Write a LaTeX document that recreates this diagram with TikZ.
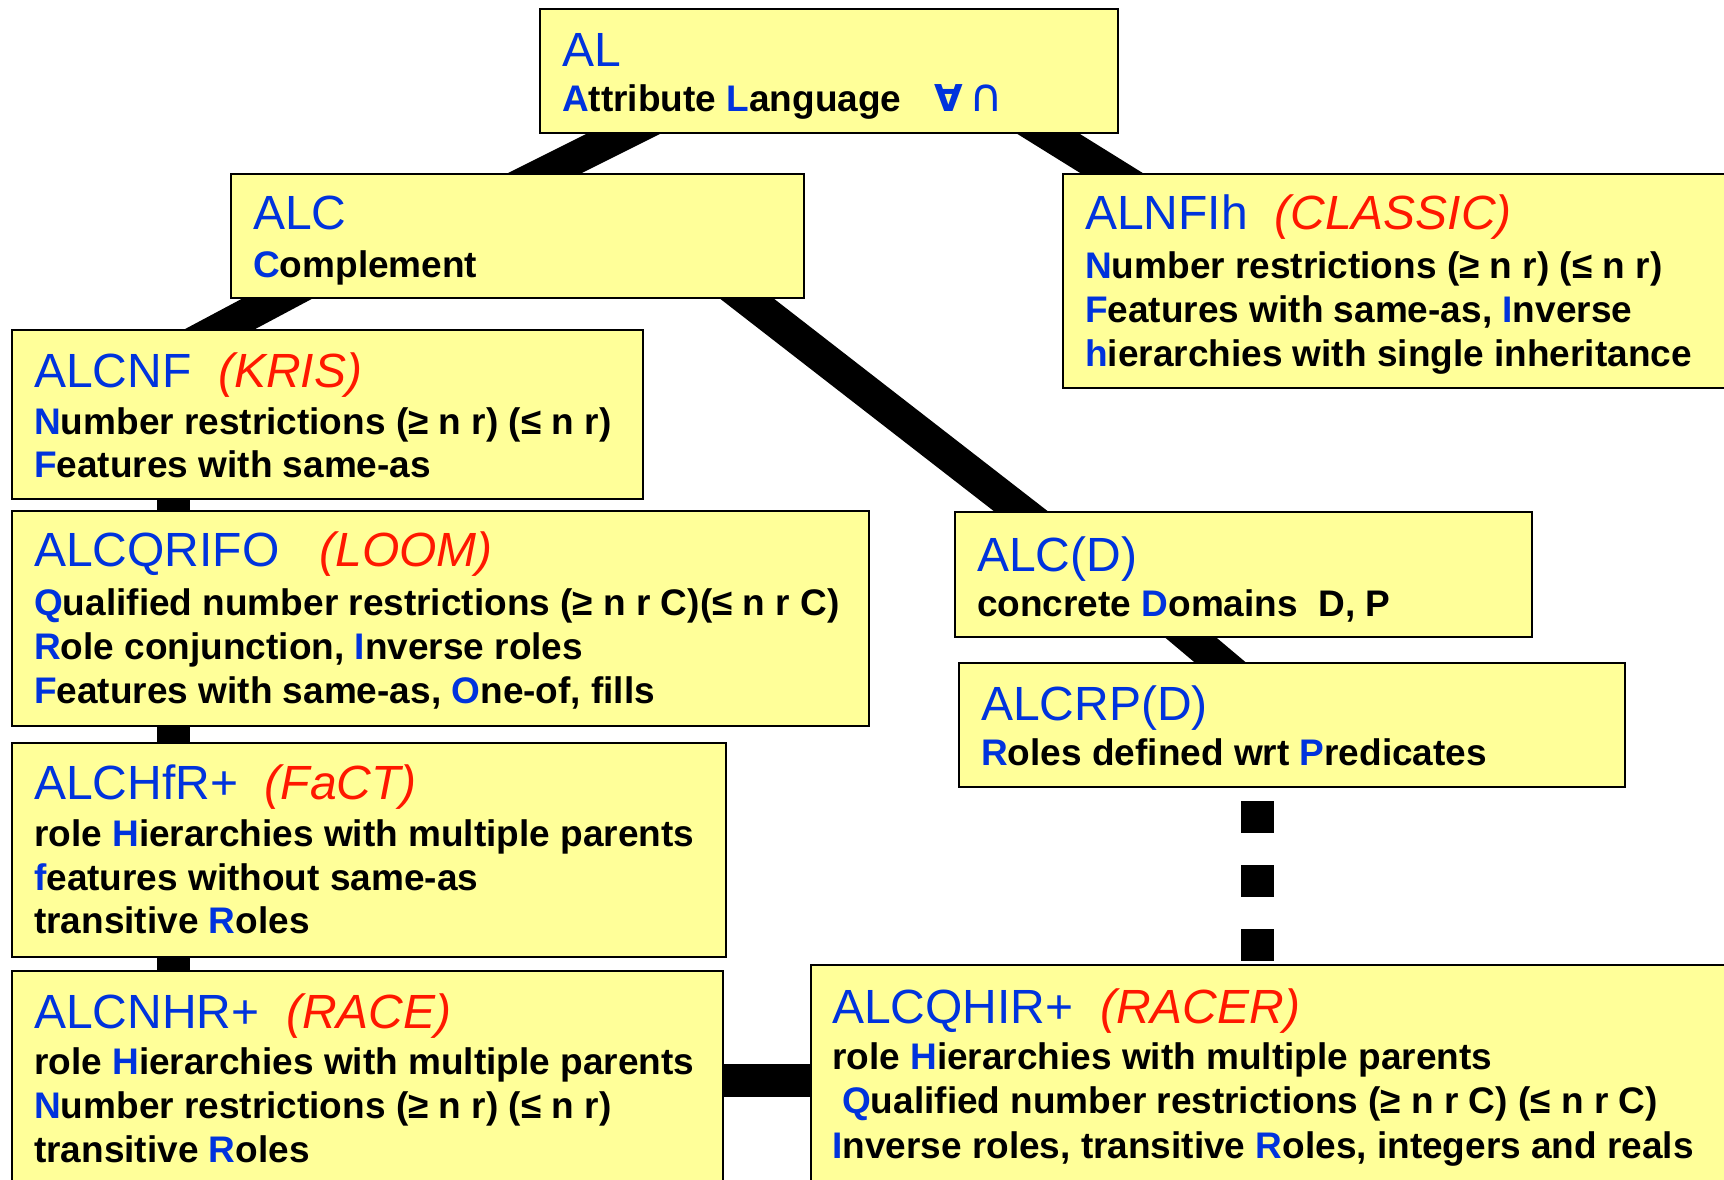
\documentclass[tikz,border=0pt]{standalone}
\usepackage{fontspec}
\setmainfont{Liberation Sans}
\newfontfamily\symfont{DejaVu Sans}
\usetikzlibrary{backgrounds}
\definecolor{boxyellow}{RGB}{255,255,153}
\definecolor{dlblue}{RGB}{0,51,221}
\definecolor{dlred}{RGB}{255,24,0}
\newcommand{\hl}[1]{\textcolor{dlblue}{#1}}
\newcommand{\sysname}[1]{{\color{dlred}\itshape #1}}
\begin{document}
\begin{tikzpicture}[x=1pt,y=-1pt,
  dlbox/.style={draw=black, line width=2.5pt, fill=boxyellow, anchor=north west, inner sep=0pt, outer sep=0pt},
  ttl/.style={anchor=base west, inner sep=0pt, font=\fontsize{48}{48}\selectfont, text=dlblue},
  txt/.style={anchor=base west, inner sep=0pt, font=\fontsize{37}{37}\selectfont\bfseries},
  link/.style={line width=33pt, black},
  dashlink/.style={line width=33pt, black, dash pattern=on 32pt off 32pt, dash phase=50pt}]
\clip (0,0) rectangle (1724,1179);
\useasboundingbox (0,0) rectangle (1724,1179);

% boxes
\node[dlbox, minimum width=578pt, minimum height=124pt] (al) at (540,9) {};
\node[dlbox, minimum width=573pt, minimum height=124pt] (alc) at (231,174) {};
\node[dlbox, minimum width=690pt, minimum height=214pt] (alnfih) at (1063,174) {};
\node[dlbox, minimum width=631pt, minimum height=169pt] (alcnf) at (12,330) {};
\node[dlbox, minimum width=857pt, minimum height=215pt] (loom) at (12,511) {};
\node[dlbox, minimum width=577pt, minimum height=125pt] (alcd) at (955,512) {};
\node[dlbox, minimum width=666pt, minimum height=124pt] (alcrpd) at (959,663) {};
\node[dlbox, minimum width=714pt, minimum height=214pt] (fact) at (12,743) {};
\node[dlbox, minimum width=711pt, minimum height=230pt] (race) at (12,971) {};
\node[dlbox, minimum width=930pt, minimum height=230pt] (racer) at (811,965) {};

% connectors behind the boxes
\coordinate (l1a) at (691,100);  \coordinate (l1b) at (471,210);
\coordinate (l2a) at (994,100);  \coordinate (l2b) at (1171,210);
\coordinate (l3a) at (331,270);  \coordinate (l3b) at (162,360);
\coordinate (l4a) at (710,270);  \coordinate (l4b) at (1058,540);
\coordinate (l5a) at (1158,610); \coordinate (l5b) at (1253,690);
\coordinate (v1a) at (173,470);  \coordinate (v1b) at (173,540);
\coordinate (v2a) at (173,700);  \coordinate (v2b) at (173,770);
\coordinate (v3a) at (173,930);  \coordinate (v3b) at (173,1000);
\coordinate (h1a) at (700,1080); \coordinate (h1b) at (840,1080);
\coordinate (d1a) at (1257,787); \coordinate (d1b) at (1257,965);
\begin{pgfonlayer}{background}
\draw[link] (l1a) -- (l1b);
\draw[link] (l2a) -- (l2b);
\draw[link] (l3a) -- (l3b);
\draw[link] (l4a) -- (l4b);
\draw[link] (l5a) -- (l5b);
\draw[link] (v1a) -- (v1b);
\draw[link] (v2a) -- (v2b);
\draw[link] (v3a) -- (v3b);
\draw[link] (h1a) -- (h1b);
\end{pgfonlayer}
\draw[dashlink] (d1a) -- (d1b);

% AL
\node[ttl] (alt) at (562,66) {AL};
\node[txt] (al1) at (562,111) {\hl{A}ttribute \hl{L}anguage\hspace{33pt}{\symfont\hl{∀}}\hspace{6pt}{\symfont\mdseries\fontsize{46}{46}\selectfont\hl{∩}}};
% ALC
\node[ttl] (alct) at (253,229) {ALC};
\node[txt] (alc1) at (253,277) {\hl{C}omplement};
% ALNFIh
\node[ttl] (alnfiht) at (1085,229) {ALNFIh~~\sysname{(CLASSIC)}};
\node[txt] (alnfih1) at (1085,278) {\hl{N}umber restrictions (≥ n r) (≤ n r)};
\node[txt] (alnfih2) at (1085,322) {\hl{F}eatures with same-as, \hl{I}nverse};
\node[txt] (alnfih3) at (1085,366) {\hl{h}ierarchies with single inheritance};
% ALCNF
\node[ttl] (alcnft) at (34,387) {ALCNF~~\sysname{(KRIS)}};
\node[txt] (alcnf1) at (34,434) {\hl{N}umber restrictions (≥ n r) (≤ n r)};
\node[txt] (alcnf2) at (34,477) {\hl{F}eatures with same-as};
% ALCQRIFO
\node[ttl] (loomt) at (34,566) {ALCQRIFO~~~\sysname{(LOOM)}};
\node[txt] (loom1) at (34,615) {\hl{Q}ualified number restrictions (≥ n r C)(≤ n r C)};
\node[txt] (loom2) at (34,659) {\hl{R}ole conjunction, \hl{I}nverse roles};
\node[txt] (loom3) at (34,703) {\hl{F}eatures with same-as, \hl{O}ne-of, fills};
% ALC(D)
\node[ttl] (alcdt) at (977,571) {ALC(D)};
\node[txt] (alcd1) at (977,616) {concrete \hl{D}omains~~D, P};
% ALCRP(D)
\node[ttl] (alcrpdt) at (981,720) {ALCRP(D)};
\node[txt] (alcrpd1) at (981,765) {\hl{R}oles defined wrt \hl{P}redicates};
% ALCHfR+
\node[ttl] (factt) at (34,799) {ALCHfR+~~\sysname{(FaCT)}};
\node[txt] (fact1) at (34,846) {role \hl{H}ierarchies with multiple parents};
\node[txt] (fact2) at (34,890) {\hl{f}eatures without same-as};
\node[txt] (fact3) at (34,933) {transitive \hl{R}oles};
% ALCNHR+
\node[ttl] (racet) at (34,1028) {ALCNHR+~~\sysname{(RACE)}};
\node[txt] (race1) at (34,1074) {role \hl{H}ierarchies with multiple parents};
\node[txt] (race2) at (34,1118) {\hl{N}umber restrictions (≥ n r) (≤ n r)};
\node[txt] (race3) at (34,1162) {transitive \hl{R}oles};
% ALCQHIR+
\node[ttl] (racert) at (832,1023) {ALCQHIR+~~\sysname{(RACER)}};
\node[txt] (racer1) at (832,1069) {role \hl{H}ierarchies with multiple parents};
\node[txt] (racer2) at (842,1113) {\hl{Q}ualified number restrictions (≥ n r C) (≤ n r C)};
\node[txt] (racer3) at (832,1158) {\hl{I}nverse roles, transitive \hl{R}oles, integers and reals};
\end{tikzpicture}
\end{document}
